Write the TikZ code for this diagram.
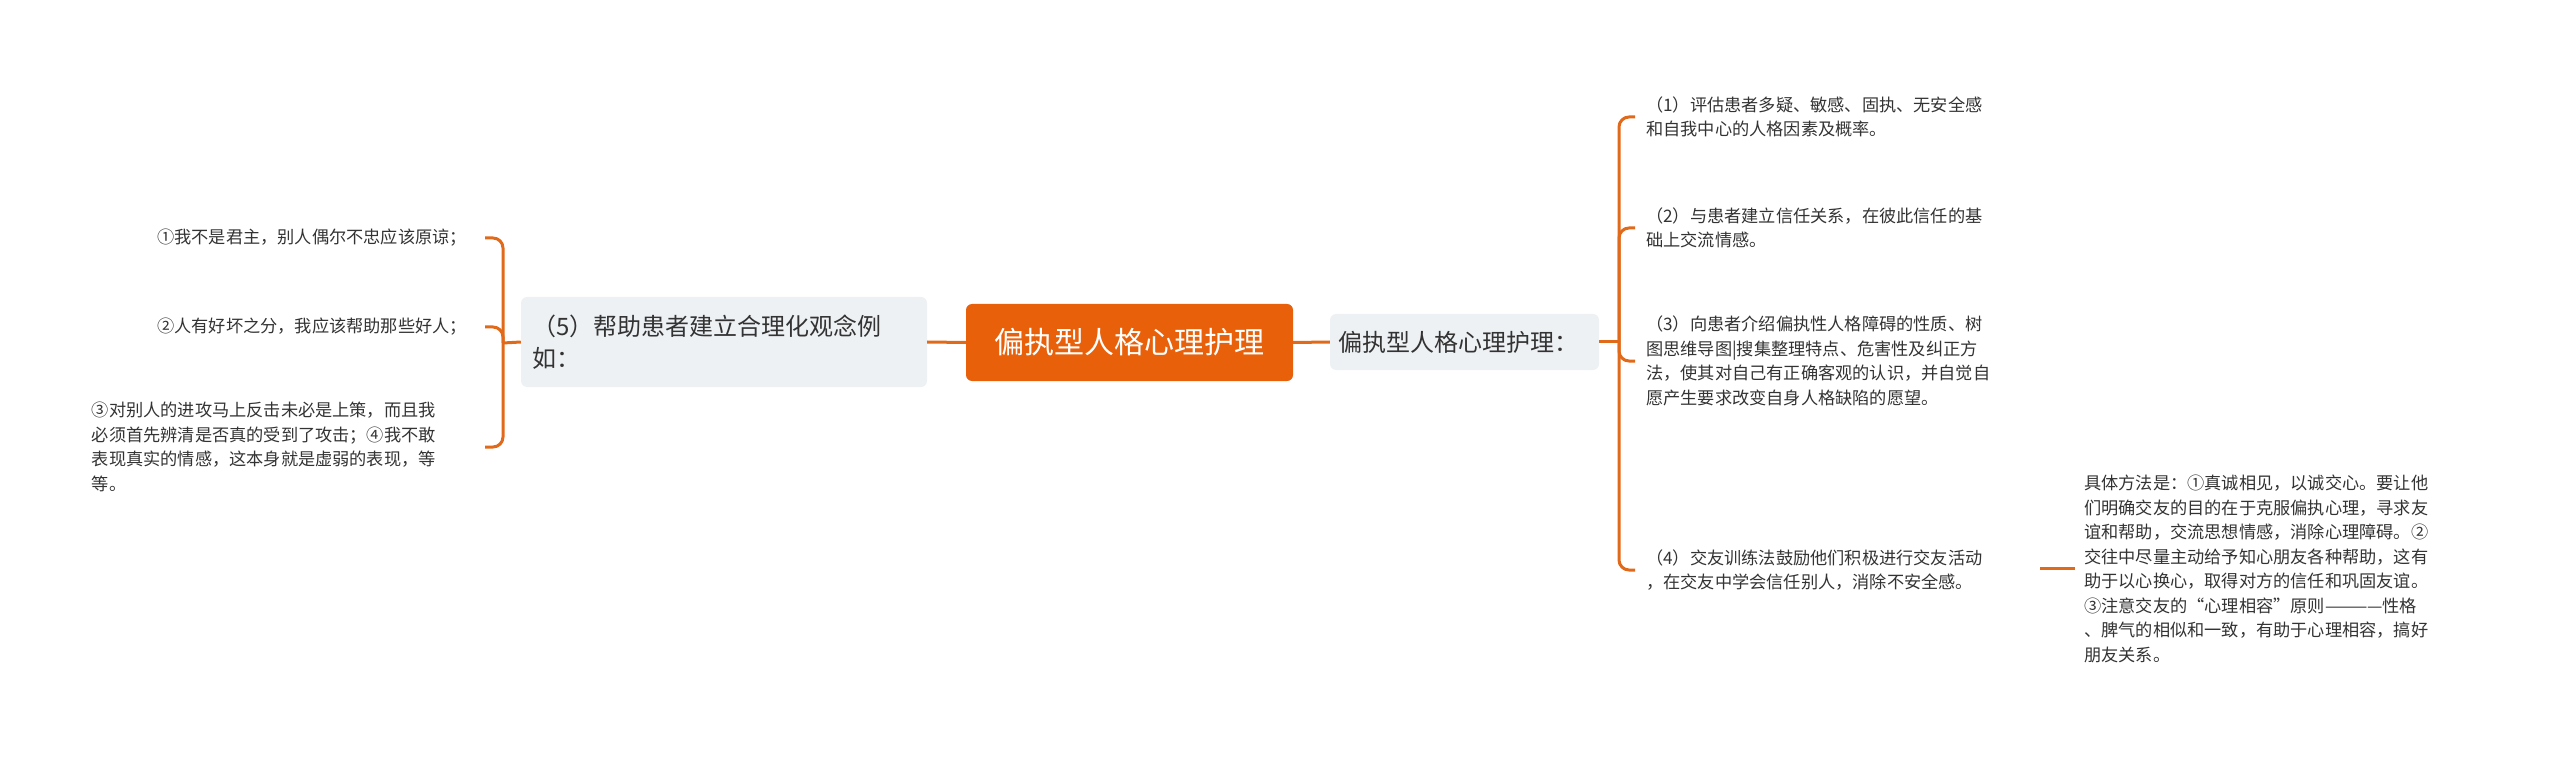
\documentclass[tikz,border=0pt]{standalone}
\usepackage{fontspec}
\newfontfamily\cjk{Noto Sans CJK SC}
\definecolor{org}{HTML}{E8600A}
\definecolor{lnc}{HTML}{E06A1A}
\definecolor{gbox}{HTML}{EEF1F4}
\definecolor{txt}{HTML}{333333}
\begin{document}
\begin{tikzpicture}[x=1pt,y=-1pt,
  conn/.style={draw=lnc,line width=3pt,rounded corners=10pt},
  leaf/.style={font=\cjk\fontsize{17.2}{24.5}\selectfont,text=txt,align=left,inner sep=0pt},
  mid/.style={fill=gbox,rounded corners=6pt,font=\cjk\fontsize{24}{32}\selectfont,text=txt,align=left,inner sep=0pt}]
\useasboundingbox (0,0) rectangle (2560,759);
% central
\node[fill=org,rounded corners=6pt,minimum width=327pt,minimum height=77pt,inner sep=0pt,
  font=\cjk\fontsize{30}{34}\selectfont,text=white] (c) at (1129.5,342.5) {偏执型人格心理护理};
% left mid
\node[mid,minimum width=406pt,minimum height=90pt,text width=384pt] (l) at (724,342) {（5）帮助患者建立合理化观念例\\如：};
% right mid
\node[mid,minimum width=269pt,minimum height=56pt,text width=252pt] (r) at (1464.5,342) {偏执型人格心理护理：};
\draw[conn] (c.west) -- (l.east);
\draw[conn] (c.east) -- (r.west);
\coordinate (lb) at (503,343);
\coordinate (rb) at (1619,342);
\draw[conn] (l.west) -- (lb);
\draw[conn] (r.east) -- (rb);
% left leaves
\node[leaf,anchor=east,text width=330pt,align=right] (l1) at (467,238) {①我不是君主，别人偶尔不忠应该原谅；};
\node[leaf,anchor=east,text width=330pt,align=right] (l2) at (467,327) {②人有好坏之分，我应该帮助那些好人；};
\node[leaf,anchor=east,text width=386pt] (l3) at (478,447) {③对别人的进攻马上反击未必是上策，而且我\\必须首先辨清是否真的受到了攻击；④我不敢\\表现真实的情感，这本身就是虚弱的表现，等\\等。};
\foreach \n in {l1,l2} \draw[conn] (lb) |- ([xshift=18pt]\n.east);
\draw[conn] (lb) |- ([xshift=7pt]l3.east);
% right leaves
\begin{scope}[every node/.append style={text width=390pt}]
\node[leaf,anchor=west] (r1) at (1646,117) {（1）评估患者多疑、敏感、固执、无安全感\\和自我中心的人格因素及概率。};
\node[leaf,anchor=west] (r2) at (1646,228) {（2）与患者建立信任关系，在彼此信任的基\\础上交流情感。};
\node[leaf,anchor=west] (r3) at (1646,361) {（3）向患者介绍偏执性人格障碍的性质、树\\图思维导图|搜集整理特点、危害性及纠正方\\法，使其对自己有正确客观的认识，并自觉自\\愿产生要求改变自身人格缺陷的愿望。};
\node[leaf,anchor=west] (r4) at (1646,570) {（4）交友训练法鼓励他们积极进行交友活动\\，在交友中学会信任别人，消除不安全感。};
\node[leaf,anchor=west] (r5) at (2084,569) {具体方法是：①真诚相见，以诚交心。要让他\\们明确交友的目的在于克服偏执心理，寻求友\\谊和帮助，交流思想情感，消除心理障碍。②\\交往中尽量主动给予知心朋友各种帮助，这有\\助于以心换心，取得对方的信任和巩固友谊。\\③注意交友的“心理相容”原则————性格\\、脾气的相似和一致，有助于心理相容，搞好\\朋友关系。};
\end{scope}
\foreach \n in {r1,r2,r3,r4} \draw[conn] (rb) |- ([xshift=-11pt]\n.west);
\coordinate (r4e) at (2040,568);
\draw[conn] (r4e) -- ([xshift=-9pt]r5.west |- r4e);
\end{tikzpicture}
\end{document}
